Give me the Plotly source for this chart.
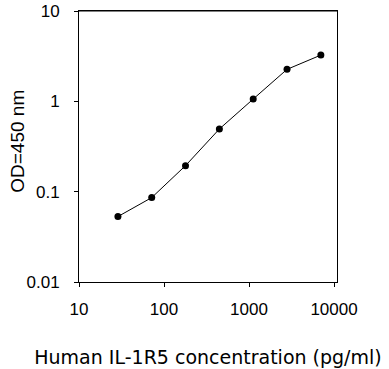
import plotly.graph_objects as go

concentration = [28.7, 71.7, 179, 448, 1120, 2800, 7000]
od450 = [0.053, 0.086, 0.194, 0.494, 1.06, 2.26, 3.25]

x_tickvals = [10, 100, 1000, 10000]
x_ticktext = ["10", "100", "1000", "10000"]
y_tickvals = [0.01, 0.1, 1, 10]
y_ticktext = ["0.01", "0.1", "1", "10"]

FONT = "Liberation Sans, Arial, sans-serif"
TITLE_FONT = "DejaVu Sans, Liberation Sans, Arial, sans-serif"

fig = go.Figure()
fig.add_trace(go.Scatter(
    x=concentration, y=od450, mode="lines+markers",
    line=dict(color="black", width=1),
    marker=dict(color="black", size=7, symbol="circle"),
    showlegend=False,
))

fig.update_layout(
    width=389, height=369,
    margin=dict(l=79, r=52, t=11, b=87, autoexpand=False),
    paper_bgcolor="white", plot_bgcolor="white",
    font=dict(family=FONT, color="black", size=17),
    xaxis=dict(
        type="log", range=[1, 4.035],
        tickvals=x_tickvals, ticktext=x_ticktext,
        ticks="outside", ticklen=4, tickcolor="black", tickwidth=1,
        showline=True, linecolor="black", linewidth=1, mirror=True,
        showgrid=False, zeroline=False,
        tickfont=dict(size=17), ticklabelstandoff=8,
        ticklabeloverflow="allow",
        title=dict(text="Human IL-1R5 concentration (pg/ml)",
                   font=dict(size=19, family=TITLE_FONT), standoff=32),
    ),
    yaxis=dict(
        type="log", range=[-2, 1],
        tickvals=y_tickvals, ticktext=y_ticktext,
        ticks="outside", ticklen=4, tickcolor="black", tickwidth=1,
        showline=True, linecolor="black", linewidth=1, mirror=True,
        showgrid=False, zeroline=False,
        tickfont=dict(size=17), ticklabelstandoff=11,
        ticklabeloverflow="allow",
    ),
    shapes=[dict(
        type="rect", xref="paper", yref="paper",
        x0=0, x1=1, y0=0.9985, y1=1.0025,
        fillcolor="black", line=dict(width=0), layer="above",
    )],
    annotations=[dict(
        text="OD=450 nm", textangle=-90, showarrow=False,
        xref="paper", yref="paper", x=-0.236, y=0.518,
        xanchor="center", yanchor="middle",
        font=dict(size=19, family=FONT, color="black"),
    )],
)

fig.write_html("out.html",
               config={"displayModeBar": False},
               post_script="document.body.style.margin='0';")
